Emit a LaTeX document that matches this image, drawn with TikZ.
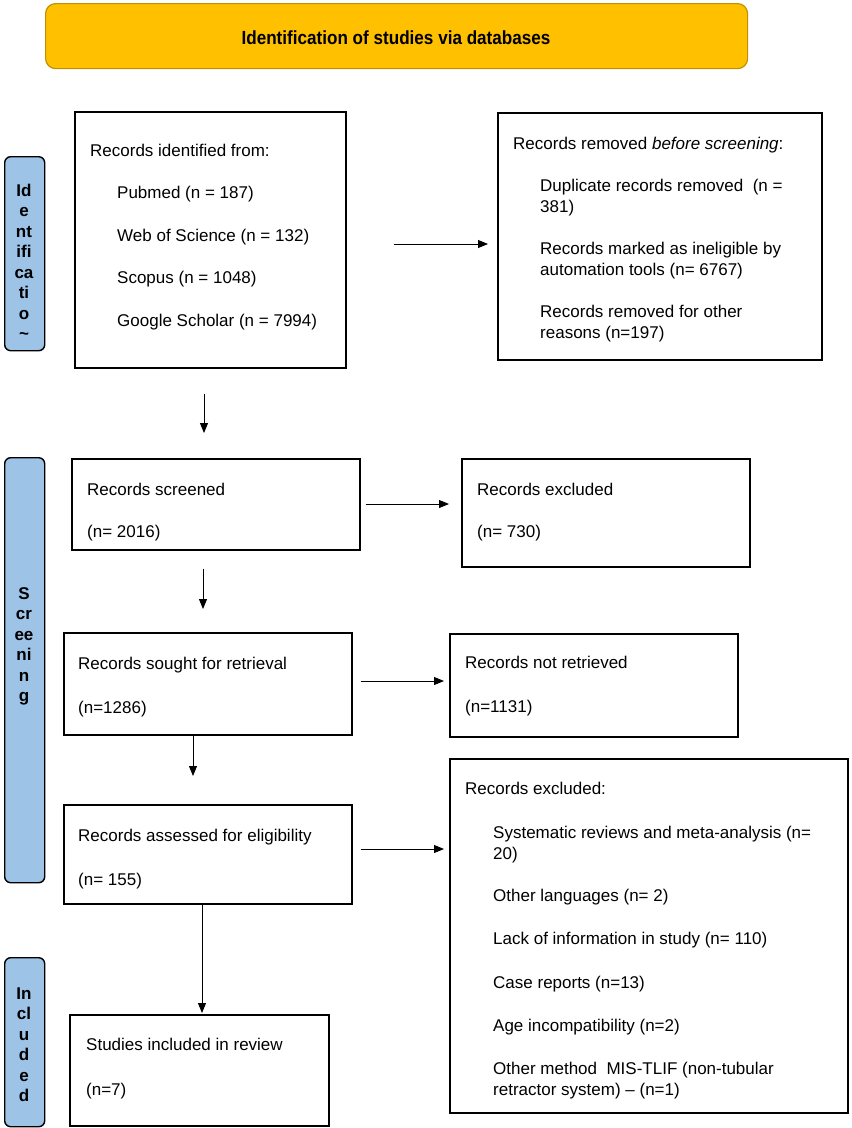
\documentclass[tikz,border=0pt]{standalone}
\usepackage{fontspec}
\setmainfont{Liberation Sans}
\newfontfamily\narrowfont[FakeStretch=0.9]{Liberation Sans}
\usetikzlibrary{arrows.meta}
\definecolor{hdrfill}{HTML}{FFC000}
\definecolor{hdrdraw}{HTML}{BF9000}
\definecolor{barfill}{HTML}{9DC3E6}
\begin{document}
\begin{tikzpicture}[x=1pt,y=-1pt,
  box/.style={draw=black, line width=1.6pt, anchor=north west, inner sep=0pt},
  bar/.style={draw=black, line width=1.4pt, fill=barfill, rounded corners=6pt, anchor=north west, inner sep=0pt, minimum width=40pt},
  txt/.style={anchor=base west, inner sep=0pt, font=\fontsize{17}{20}\selectfont},
  bartxt/.style={anchor=base, inner sep=0pt, font=\bfseries\fontsize{17}{20}\selectfont},
  arr/.style={draw=black, line width=0.9pt, -{Triangle[length=10pt,width=8pt]}}]
\useasboundingbox (0,0) rectangle (852,1128);

% header
\node[draw=hdrdraw, line width=1.2pt, fill=hdrfill, rounded corners=10pt, minimum width=702pt, minimum height=65pt, anchor=north west, inner sep=0pt] (hdr) at (45,3) {};
\node[font=\narrowfont\bfseries\fontsize{19}{22}\selectfont, inner sep=0pt] (hdrtxt) at (396,38) {Identification of studies via databases};

% side bars
\node[bar, minimum height=194pt] (idbar) at (4,156) {};
\node[bar, minimum height=425pt] (scbar) at (4,457) {};
\node[bar, minimum height=169pt] (inbar) at (4,957) {};

\foreach \t [count=\i from 0] in {Id,e,nt,ifi,ca,ti,o,\textasciitilde}
  \node[bartxt] at (24,196+20.5*\i) {\t};
\foreach \t [count=\i from 0] in {S,cr,ee,ni,n,g}
  \node[bartxt] at (24,599+20.5*\i) {\t};
\foreach \t [count=\i from 0] in {In,cl,u,d,e,d}
  \node[bartxt] at (24,999+20.5*\i) {\t};

% boxes
\node[box, minimum width=271pt, minimum height=256pt] (ident) at (74,111) {};
\node[box, minimum width=324pt, minimum height=247pt] (removed) at (497,112) {};
\node[box, minimum width=288pt, minimum height=91pt] (screened) at (71,458) {};
\node[box, minimum width=288pt, minimum height=108pt] (excl) at (461,458) {};
\node[box, minimum width=288pt, minimum height=102pt] (sought) at (63,632) {};
\node[box, minimum width=288pt, minimum height=103pt] (notret) at (449,633) {};
\node[box, minimum width=288pt, minimum height=99pt] (assessed) at (63,804) {};
\node[box, minimum width=398pt, minimum height=354pt] (big) at (449,758) {};
\node[box, minimum width=259pt, minimum height=111pt] (studies) at (69,1014) {};

% texts: identification
\node[txt] at (90,156) {Records identified from:};
\node[txt] at (117,198) {Pubmed (n = 187)};
\node[txt] at (117,241) {Web of Science (n = 132)};
\node[txt] at (117,283) {Scopus (n = 1048)};
\node[txt] at (117,326) {Google Scholar (n = 7994)};

\node[txt] at (513,149) {Records removed \textit{before screening}:};
\node[txt] at (540,191) {Duplicate records removed\ \ (n =};
\node[txt] at (540,212) {381)};
\node[txt] at (540,254) {Records marked as ineligible by};
\node[txt] at (540,275) {automation tools (n= 6767)};
\node[txt] at (540,317) {Records removed for other};
\node[txt] at (540,338) {reasons (n=197)};

% screening
\node[txt] at (87,495) {Records screened};
\node[txt] at (87,537) {(n= 2016)};
\node[txt] at (477,495) {Records excluded};
\node[txt] at (477,537) {(n= 730)};

\node[txt] at (78,669) {Records sought for retrieval};
\node[txt] at (78,713) {(n=1286)};
\node[txt] at (465,668) {Records not retrieved};
\node[txt] at (465,712) {(n=1131)};

\node[txt] at (78,841) {Records assessed for eligibility};
\node[txt] at (78,885) {(n= 155)};

\node[txt] at (465,794) {Records excluded:};
\node[txt] at (493,838) {Systematic reviews and meta-analysis (n=};
\node[txt] at (493,859) {20)};
\node[txt] at (493,901) {Other languages (n= 2)};
\node[txt] at (493,944) {Lack of information in study (n= 110)};
\node[txt] at (493,988) {Case reports (n=13)};
\node[txt] at (493,1031) {Age incompatibility (n=2)};
\node[txt] at (493,1074) {Other method\ \ MIS-TLIF (non-tubular};
\node[txt] at (493,1095) {retractor system) – (n=1)};

% included
\node[txt] at (86,1050) {Studies included in review};
\node[txt] at (86,1095) {(n=7)};

% arrows
\draw[arr, shorten <=47pt, shorten >=9pt] (ident.east |- 0,244) -- (removed.west |- 0,244);
\draw[arr, shorten <=25pt, shorten >=25pt] (204,0 |- ident.south) -- (204,0 |- screened.north);
\draw[arr, shorten <=5pt, shorten >=12pt] (screened.east |- 0,504) -- (excl.west |- 0,504);
\draw[arr, shorten <=18pt, shorten >=23pt] (203,0 |- screened.south) -- (203,0 |- sought.north);
\draw[arr, shorten <=8pt, shorten >=5pt] (sought.east |- 0,681) -- (notret.west |- 0,681);
\draw[arr, shorten >=28pt] (193,0 |- sought.south) -- (193,0 |- assessed.north);
\draw[arr, shorten <=8pt, shorten >=5pt] (assessed.east |- 0,849) -- (big.west |- 0,849);
\draw[arr, shorten >=1pt] (202,0 |- assessed.south) -- (202,0 |- studies.north);
\end{tikzpicture}
\end{document}
